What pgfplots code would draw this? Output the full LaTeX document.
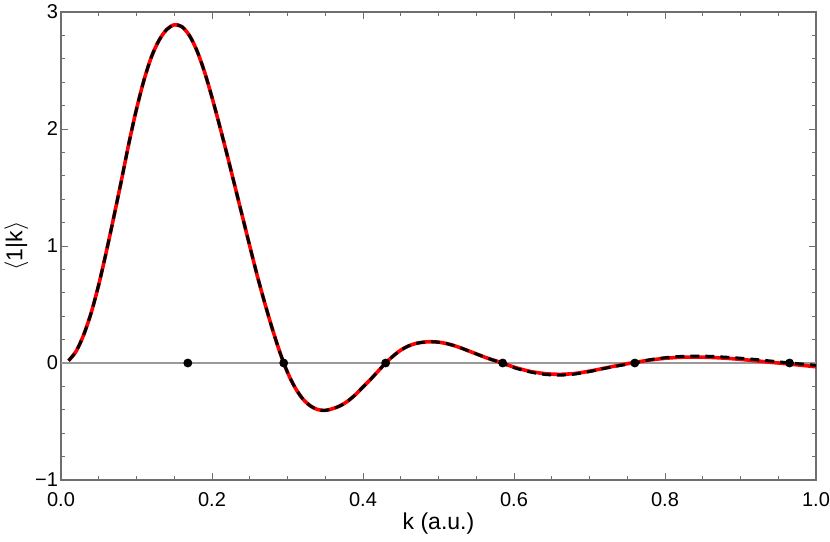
\documentclass[border=0pt]{standalone}
\usepackage{fontspec}
\setmainfont{Liberation Sans}
\usepackage{pgfplots}
\pgfplotsset{compat=1.18}

\definecolor{framegray}{HTML}{6E6E6E}

% shared part of both curves, k from 0.01 to 0.58
\pgfplotstableread{
k      y
0.010  0.02
0.020  0.10
0.030  0.24
0.040  0.43
0.050  0.67
0.060  0.95
0.070  1.25
0.080  1.56
0.090  1.88
0.100  2.17
0.110  2.42
0.120  2.62
0.130  2.76
0.140  2.85
0.150  2.89
0.160  2.875
0.170  2.80
0.180  2.67
0.190  2.49
0.200  2.27
0.210  2.03
0.220  1.78
0.230  1.52
0.240  1.26
0.250  1.00
0.260  0.745
0.270  0.51
0.280  0.29
0.290  0.09
0.300  -0.08
0.310  -0.21
0.320  -0.305
0.330  -0.365
0.340  -0.398
0.350  -0.405
0.360  -0.39
0.370  -0.365
0.380  -0.325
0.390  -0.27
0.400  -0.205
0.410  -0.14
0.420  -0.07
0.430  0.00
0.440  0.06
0.450  0.11
0.460  0.145
0.470  0.167
0.480  0.178
0.490  0.182
0.500  0.178
0.510  0.167
0.520  0.150
0.530  0.128
0.540  0.103
0.550  0.078
0.560  0.053
0.570  0.030
0.580  0.010
}\headdata

\pgfplotstableread{
k      y
0.580  0.010
0.600  -0.035
0.620  -0.070
0.640  -0.090
0.660  -0.097
0.680  -0.090
0.700  -0.070
0.720  -0.044
0.740  -0.018
0.760  0.005
0.780  0.025
0.800  0.040
0.820  0.049
0.840  0.051
0.860  0.048
0.880  0.041
0.900  0.031
0.920  0.019
0.940  0.006
0.960  -0.006
0.980  -0.019
1.000  -0.032
}\redtail

\pgfplotstableread{
k      y
0.580  0.010
0.600  -0.040
0.620  -0.075
0.640  -0.097
0.660  -0.104
0.680  -0.095
0.700  -0.073
0.720  -0.046
0.740  -0.022
0.760  0.000
0.780  0.028
0.800  0.045
0.820  0.056
0.840  0.059
0.860  0.057
0.880  0.050
0.900  0.041
0.920  0.030
0.940  0.017
0.960  0.004
0.980  -0.008
1.000  -0.020
}\blacktail

\begin{document}
\begin{tikzpicture}
  \begin{axis}[
      name=ax,
      scale only axis,
      width=377.5pt, height=234pt,
      xmin=0, xmax=1, ymin=-1, ymax=3,
      xtick={0,0.2,0.4,0.6,0.8,1},
      xticklabels={0.0,0.2,0.4,0.6,0.8,1.0},
      ytick={-1,0,1,2,3},
      yticklabels={−1,0,1,2,3},
      minor x tick num=3,
      minor y tick num=4,
      tick align=inside,
      major tick length=3.5pt,
      minor tick length=2pt,
      axis line style={framegray, line width=0.6pt},
      tick style={framegray, line width=0.5pt},
      ticklabel style={font=\fontsize{10}{11}\selectfont},
      xticklabel style={yshift=-2.5pt},
      yticklabel style={xshift=2pt},
      xlabel={k (a.u.)},
      ylabel={$\langle$1|k$\rangle$},
      label style={font=\fontsize{11.5}{12}\selectfont},
      xlabel style={at={(axis description cs:0.5,-0.092)}, anchor=center},
      ylabel style={at={(axis description cs:-0.059,0.5)}, anchor=center},
      clip=true,
    ]
    % zero line
    \addplot[gray!80, line width=0.6pt] coordinates {(0,0) (1,0)};

    % zeros
    \addplot[only marks, mark=*, mark size=2pt, black] coordinates {
      (0.168,0) (0.295,0) (0.430,0) (0.585,0) (0.760,0) (0.965,0)
    };

    % red solid curve
    \addplot[red, line width=1.8pt, smooth] table[x=k, y=y] {\headdata};
    \addplot[red, line width=1.8pt, smooth] table[x=k, y=y] {\redtail};

    % black dashed curve
    \addplot[black, line width=1.5pt, dash pattern=on 4.5pt off 3pt, smooth] table[x=k, y=y] {\headdata};
    \addplot[black, line width=1.5pt, dash pattern=on 4.5pt off 3pt, smooth] table[x=k, y=y] {\blacktail};
  \end{axis}
  \pgfresetboundingbox
  \path[use as bounding box] ([xshift=-30.5pt,yshift=-30.5pt]ax.south west)
    rectangle ([xshift=7pt,yshift=6pt]ax.north east);
\end{tikzpicture}
\end{document}
